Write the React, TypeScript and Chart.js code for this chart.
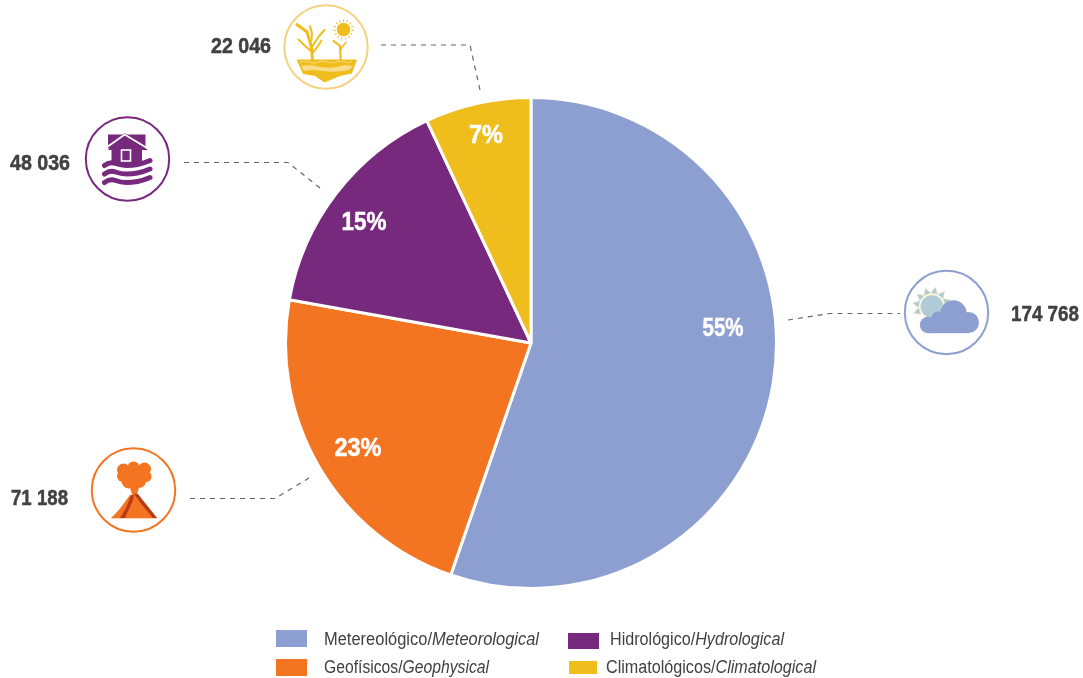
import React, { useEffect, useRef } from "react";
import { Chart, registerables } from "chart.js";

Chart.register(...registerables);

const categories = ["Metereológico", "Geofísicos", "Hidrológico", "Climatológicos"];
const categoriesEn = ["Meteorological", "Geophysical", "Hydrological", "Climatological"];
const values = [174768, 71188, 48036, 22046];
const valueLabels = ["174 768", "71 188", "48 036", "22 046"];
const percentLabels = ["55%", "23%", "15%", "7%"];
const colors = ["#8d9fd1", "#f47521", "#772a7d", "#efbd1c"];

const percentPos = [[723, 327], [358, 447], [364, 221], [486, 134]];
const percentWidth = [41, 47, 45, 34];
const valuePos = [[1011, 313], [11, 497], [10, 162], [211, 45]];
const valueWidth = [68, 57, 60, 60];
const circlePos = [[946.5, 312.5], [133.5, 490], [127.5, 159], [326, 47]];
const circleStroke = ["#8d9fd1", "#f47521", "#772a7d", "#f5d27f"];
const leaders = [
  "M788 320 L830 313.5 L900 313.5",
  "M190 498.5 L275 498.5 L309 478",
  "M184 162.5 L288 162.5 L320 188",
  "M381 45 L470 45 L480 90",
];
const legendBoxes = [[276, 630, 31, 17], [276, 659, 31, 17], [568, 633, 31, 16], [569, 661, 28, 13]];
const legendText = [[324, 645], [324, 673], [610, 645], [606, 673]];
const legendWidth = [215, 165, 174, 210];

const FONT = "'Liberation Sans', Arial, sans-serif";

function CloudIcon() {
  const rays = [-170, -140, -110, -80, -50, -20, 160];
  return (
    <g>
      {rays.map((a) => (
        <polygon key={a} points="-3.5,-13 3.5,-13 0,-19.5" fill="#afcbd8" stroke="#e8e3b0" strokeWidth="0.5"
          transform={`translate(932 306.5) rotate(${a + 90})`} />
      ))}
      <circle cx="932" cy="306.5" r="11.5" fill="#afcbd8" stroke="#e8e3b0" strokeWidth="0.8" />
      <g fill="#8d9fd1">
        <circle cx="928" cy="325" r="8.2" />
        <circle cx="938" cy="318" r="6.5" />
        <circle cx="953.5" cy="313.5" r="13.2" />
        <circle cx="968.5" cy="322.5" r="10.5" />
        <rect x="928" y="318" width="41" height="15.2" />
      </g>
    </g>
  );
}

function VolcanoIcon() {
  return (
    <g>
      <g fill="#f47521">
        <circle cx="123.5" cy="470" r="6.5" /><circle cx="133.5" cy="467.5" r="6" /><circle cx="144.5" cy="469" r="6.5" />
        <circle cx="146" cy="476.5" r="5.5" /><circle cx="139" cy="481" r="7" /><circle cx="129" cy="481" r="7.5" /><circle cx="123" cy="476" r="6" />
        <circle cx="134" cy="474" r="8" />
        <polygon points="129,484 140,484 136.5,496 132.5,496" />
      </g>
      <path fill="#f47521" d="M111 518 C119 511 124 503 130 495 L138 495 L146 504 L157 518 Z" />
      <path fill="#b83a1c" d="M120 518 L125 518 C128 510 133 503 134 495 L130.5 495.5 C128 505 124 512 120 518 Z" />
      <path fill="#b83a1c" d="M134 494 L138 494 L148 507 L157 518 L153 518 L143 506 Z" />
      <rect x="111" y="518" width="46" height="0.8" fill="#f9c9a8" />
    </g>
  );
}

function FloodIcon() {
  const wave = (y: number) => `M104.5 ${y} Q110 ${y - 4} 115.5 ${y - 2} T126.5 ${y} T137.5 ${y - 1} T150 ${y - 5}`;
  return (
    <g>
      <rect x="108" y="134.5" width="37.5" height="14" fill="#772a7d" />
      <polygon points="124.7,133 148,150 108,150" fill="#772a7d" />
      <rect x="111.5" y="147" width="30.5" height="17" fill="#772a7d" />
      <path d="M106.5 147.5 L124.7 134.5 L147 148" fill="none" stroke="#fff" strokeWidth="1.8" />
      <rect x="121.5" y="150" width="9" height="11" fill="#772a7d" stroke="#fff" strokeWidth="1.6" />
      {[165.5, 174, 182.5].map((y) => (
        <path key={y} d={wave(y)} fill="none" stroke="#772a7d" strokeWidth="5" strokeLinecap="round" />
      ))}
    </g>
  );
}

function DroughtIcon() {
  const c = "#efbd1c";
  const angles = [0, 24, 48, 72, 96, 120, 144, 168, 192, 216, 240, 264, 288, 312, 336];
  return (
    <g>
      <circle cx="343.5" cy="29.5" r="6.8" fill={c} />
      {angles.map((a) => (
        <line key={a} x1="343.5" y1="21.5" x2="343.5" y2="19.3" stroke={c} strokeWidth="1" transform={`rotate(${a} 343.5 29.5)`} />
      ))}
      <g fill="none" stroke={c} strokeLinecap="round">
        <path d="M312.5 60 L311.5 47 L307 32 L297 24.5" strokeWidth="3" />
        <path d="M311.5 40 L312 33 L310 26" strokeWidth="2" />
        <path d="M312.5 46 L319 36 L324.5 30" strokeWidth="2" />
        <path d="M311 51 L304 45 L298.5 39.5" strokeWidth="2" />
        <path d="M313.5 52 L318 46 L321.5 40.5" strokeWidth="2" />
        <path d="M340.7 60 L340 46 L333.5 41" strokeWidth="2.2" />
        <path d="M340.3 50 L343 46 L346 42.5" strokeWidth="1.6" />
      </g>
      <path fill={c} d="M296.5 59.5 L357 59.5 L352 73.5 L340 76 L324.5 82.5 L315 76 L303 74 Z" />
      <path fill="#f7dc8a" d="M301 66 Q312 64 320 67 Q332 69 345 65 L353 66 L349 70 Q335 73 322 71 Q312 69 304 71 Z" />
      <path fill="none" stroke="#f7dc8a" strokeWidth="0.9" d="M300 62 q5 -2 9 0 t9 0 t9 0 t9 0 t9 0 t7 -1" />
    </g>
  );
}

const icons = [CloudIcon, VolcanoIcon, FloodIcon, DroughtIcon];

export default function App() {
  const ref = useRef<HTMLCanvasElement>(null);

  useEffect(() => {
    document.body.style.margin = "0";
    const chart = new Chart(ref.current!, {
      type: "pie",
      data: {
        labels: categories,
        datasets: [{ data: values, backgroundColor: colors, borderColor: "#ffffff", borderWidth: 3 }],
      },
      options: {
        animation: false,
        responsive: false,
        layout: { padding: { left: 284, right: 305, top: 96, bottom: 88 } },
        plugins: { legend: { display: false }, tooltip: { enabled: false } },
      },
    });
    return () => chart.destroy();
  }, []);

  return (
    <div style={{ position: "relative", width: 1083, height: 678, overflow: "hidden", background: "#fff" }}>
      <canvas ref={ref} width={1083} height={678} style={{ position: "absolute", left: 0, top: 0, width: 1083, height: 678 }} />
      <svg width={1083} height={678} style={{ position: "absolute", left: 0, top: 0 }} fontFamily={FONT}>
        {leaders.map((d, i) => (
          <path key={i} d={d} fill="none" stroke="#666666" strokeWidth="1.2" strokeDasharray="5 5" />
        ))}
        {circlePos.map(([x, y], i) => {
          const Icon = icons[i];
          return (
            <g key={i}>
              <circle cx={x} cy={y} r={41.7} fill="#fff" stroke={circleStroke[i]} strokeWidth="2" />
              <Icon />
            </g>
          );
        })}
        {percentLabels.map((t, i) => (
          <text key={t} x={percentPos[i][0]} y={percentPos[i][1]} textAnchor="middle" dominantBaseline="central"
            fill="#fff" stroke="#fff" strokeWidth="0.5" fontWeight="700" fontSize="25" textLength={percentWidth[i]} lengthAdjust="spacingAndGlyphs">{t}</text>
        ))}
        {valueLabels.map((t, i) => (
          <text key={t} x={valuePos[i][0]} y={valuePos[i][1]} dominantBaseline="central"
            fill="#414042" stroke="#414042" strokeWidth="0.5" fontWeight="700" fontSize="22" textLength={valueWidth[i]} lengthAdjust="spacingAndGlyphs">{t}</text>
        ))}
        {[0, 1, 2, 3].map((i) => (
          <g key={i}>
            <rect x={legendBoxes[i][0]} y={legendBoxes[i][1]} width={legendBoxes[i][2]} height={legendBoxes[i][3]} fill={colors[i]} />
            <text x={legendText[i][0]} y={legendText[i][1]} fill="#414042" fontSize="18" textLength={legendWidth[i]} lengthAdjust="spacingAndGlyphs">
              {categories[i]}/<tspan fontStyle="italic">{categoriesEn[i]}</tspan>
            </text>
          </g>
        ))}
      </svg>
    </div>
  );
}
